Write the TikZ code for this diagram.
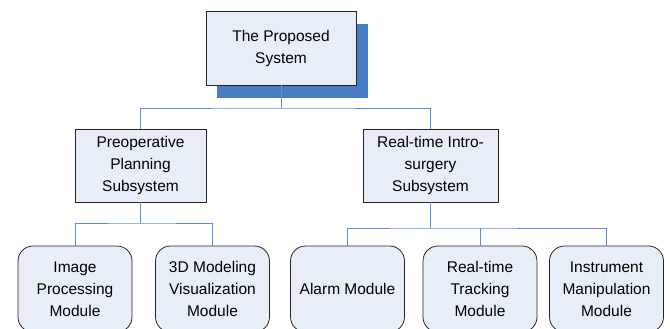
\documentclass[tikz,border=0pt]{standalone}
\usepackage{fontspec}
\setmainfont{Liberation Sans}
\definecolor{boxfill}{HTML}{E8EEF8}
\definecolor{shadowblue}{HTML}{4A7CC4}
\definecolor{linkblue}{HTML}{5B8DD6}
\begin{document}
\begin{tikzpicture}[x=1pt, y=-1pt,
   box/.style = {draw=black!85, fill=boxfill, align=center, inner sep=0pt,
                 line width=0.8pt, font=\fontsize{15.5}{22}\selectfont},
   subbox/.style = {box, minimum height=73pt},
   modbox/.style = {box, rounded corners=15pt, minimum width=114pt, minimum height=86pt},
   link/.style = {draw=linkblue, line width=0.8pt}]
   \clip (0,0) rectangle (670,329);
   % shadow behind the top box
   \fill[shadowblue] (217,24) rectangle (368,98);
   \node[box, minimum width=150pt, minimum height=74pt] (sys) at (281,48) {The Proposed\\System};
   \node[subbox, minimum width=131pt] (pre) at (140.5,165.5) {Preoperative\\Planning\\Subsystem};
   \node[subbox, minimum width=135pt] (intra) at (430.5,165.5) {Real-time Intro-\\surgery\\Subsystem};
   \node[modbox] (img) at (75,289) {Image\\Processing\\Module};
   \node[modbox] (model) at (212.5,289) {3D Modeling\\Visualization\\Module};
   \node[modbox] (alarm) at (347.5,289) {Alarm Module};
   \node[modbox] (track) at (480,289) {Real-time\\Tracking\\Module};
   \node[modbox] (instr) at (606.5,289) {Instrument\\Manipulation\\Module};
   \coordinate (sysbus) at (281,108);
   \coordinate (prebus) at (140.5,223);
   \coordinate (intrabus) at (430.5,228);
   \draw[link] (sys.south) -- (sysbus);
   \draw[link] (pre.north) |- (sysbus) -| (intra.north);
   \draw[link] (pre.south) -- (prebus);
   \draw[link] (img.north) |- (prebus) -| (model.north);
   \draw[link] (intra.south) -- (intrabus);
   \draw[link] (alarm.north) |- (intrabus) -| (instr.north);
   \draw[link] (track.north) -- (track.north |- intrabus);
\end{tikzpicture}
\end{document}
